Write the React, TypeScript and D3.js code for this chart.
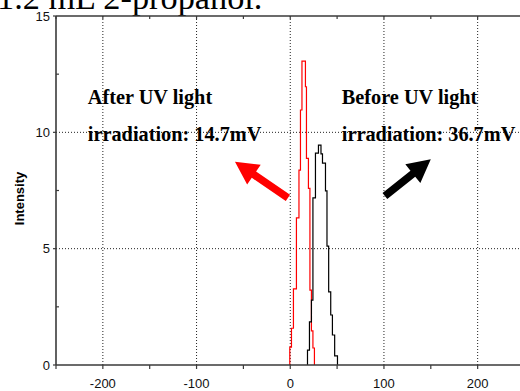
import * as d3 from "d3";

// ── Data ──────────────────────────────────────────────────────
// histogram bin edges (x) and heights (intensity)
const RED_EDGES = [-0.5, 1.3, 3.4, 6.6, 9.3, 10.9, 12.5, 16.2, 17.3, 19.4, 21.0, 22.6, 24.2, 25.8];
const RED_HEIGHTS = [0.77, 1.58, 3.27, 6.32, 8.38, 10.96, 13.06, 11.96, 8.88, 7.59, 3.22, 1.47, 0.73];

const BLACK_EDGES = [18.4, 20.5, 22.6, 24.2, 26.9, 30.1, 32.8, 34.4, 37.6, 39.2, 41.0, 43.2, 45.0, 47.4, 50.4];
const BLACK_HEIGHTS = [0.64, 1.85, 2.79, 7.18, 9.11, 9.45, 9.07, 8.68, 7.48, 5.11, 3.14, 2.15, 1.29, 0.39];

const X_TICKS = [-200, -100, 0, 100, 200];
const X_MINOR = [-250, -150, -50, 50, 150, 250];
const Y_TICKS = [0, 5, 10, 15];
const Y_MINOR = [2.5, 7.5, 12.5];
const Y_GRID = [5, 10];

// annotations in data coordinates
const LABELS = [
  { x: -216, y: 11.2, text: "After UV light" },
  { x: -216, y: 9.63, text: "irradiation: 14.7mV" },
  { x: 55, y: 11.2, text: "Before UV light" },
  { x: 55, y: 9.63, text: "irradiation: 36.7mV" },
];
const ARROWS = [
  { x0: -2.5, y0: 7.18, x1: -59, y1: 8.74, color: "#ff0000" },
  { x0: 101, y0: 7.26, x1: 150, y1: 8.84, color: "#000000" },
];

const W = 520;
const H = 391;
const M = { left: 56, top: 16, right: 524.5, bottom: 365 };

function stepPoints(edges: number[], heights: number[]): [number, number][] {
  const pts: [number, number][] = [[edges[0], 0]];
  heights.forEach((h, i) => {
    pts.push([edges[i], h]);
    pts.push([edges[i + 1], h]);
  });
  pts.push([edges[edges.length - 1], 0]);
  return pts;
}

function arrowPath(ax: number, ay: number, bx: number, by: number) {
  const dx = bx - ax;
  const dy = by - ay;
  const len = Math.hypot(dx, dy);
  const ux = dx / len;
  const uy = dy / len;
  const nx = -uy;
  const ny = ux;
  const sw = 3.8; // half shaft width
  const hw = 12; // half head width
  const hl = 23; // head length
  const bxh = bx - ux * hl;
  const byh = by - uy * hl;
  const p = [
    [ax + nx * sw, ay + ny * sw],
    [bxh + nx * sw, byh + ny * sw],
    [bxh + nx * hw, byh + ny * hw],
    [bx, by],
    [bxh - nx * hw, byh - ny * hw],
    [bxh - nx * sw, byh - ny * sw],
    [ax - nx * sw, ay - ny * sw],
  ];
  return "M" + p.map((q) => q.join(",")).join("L") + "Z";
}

export default function App() {
  const x = d3.scaleLinear().domain([-250, 250]).range([M.left, M.right]);
  const y = d3.scaleLinear().domain([0, 15]).range([M.bottom, M.top]);
  const line = d3
    .line<[number, number]>()
    .x((d) => x(d[0]))
    .y((d) => y(d[1]));

  const axisColor = "#3a3a3a";
  const sans = "'Liberation Sans', Arial, sans-serif";
  const serif = "'Liberation Serif', 'Times New Roman', serif";

  return (
    <div style={{ position: "fixed", left: 0, top: 0 }}>
      <svg width={W} height={H} style={{ display: "block", background: "#fff" }}>
        {/* clipped title above the plot */}
        <text x={-3} y={9} fontFamily={serif} fontSize={34.3} fill="#000">
          1.2 mL 2-propanol.
        </text>

        {/* grid */}
        {X_TICKS.map((t) => (
          <line key={"gx" + t} x1={x(t)} x2={x(t)} y1={M.top} y2={M.bottom}
            stroke="#222" strokeWidth={1} strokeDasharray="1,2" />
        ))}
        {Y_GRID.map((t) => (
          <line key={"gy" + t} x1={M.left} x2={M.right} y1={y(t)} y2={y(t)}
            stroke="#222" strokeWidth={1} strokeDasharray="1,2" />
        ))}

        {/* histograms */}
        <path d={line(stepPoints(RED_EDGES, RED_HEIGHTS)) ?? ""} fill="none" stroke="#ff0000" strokeWidth={1.2} />
        <path d={line(stepPoints(BLACK_EDGES, BLACK_HEIGHTS)) ?? ""} fill="none" stroke="#000" strokeWidth={1.2} />

        {/* frame */}
        <line x1={M.left} x2={M.right} y1={M.bottom} y2={M.bottom} stroke={axisColor} strokeWidth={1.6} />
        <line x1={M.left} x2={M.right} y1={M.top} y2={M.top} stroke={axisColor} strokeWidth={1.6} />
        <line x1={M.left} x2={M.left} y1={M.top} y2={M.bottom} stroke={axisColor} strokeWidth={1.6} />

        {/* x ticks */}
        {X_TICKS.concat(X_MINOR).map((t) => (
          <g key={"xt" + t}>
            <line x1={x(t)} x2={x(t)} y1={M.bottom} y2={M.bottom + 4} stroke={axisColor} strokeWidth={1.2} />
            <line x1={x(t)} x2={x(t)} y1={M.top} y2={M.top + 3} stroke={axisColor} strokeWidth={1.2} />
          </g>
        ))}
        {X_TICKS.map((t) => (
          <text key={"xl" + t} x={x(t)} y={388} textAnchor="middle" fontFamily={sans} fontSize={13} fill="#111">
            {t}
          </text>
        ))}

        {/* y ticks */}
        {Y_TICKS.map((t) => (
          <g key={"yt" + t}>
            <line x1={M.left - 3} x2={M.left} y1={y(t)} y2={y(t)} stroke={axisColor} strokeWidth={1.2} />
            <text x={50} y={y(t)} dy="0.35em" textAnchor="end" fontFamily={sans} fontSize={13} fill="#111">
              {t}
            </text>
          </g>
        ))}
        {Y_MINOR.map((t) => (
          <line key={"ym" + t} x1={M.left} x2={M.left + 3} y1={y(t)} y2={y(t)} stroke={axisColor} strokeWidth={1.2} />
        ))}
        <text transform={`translate(24,${(M.top + M.bottom) / 2 + 8}) rotate(-90)`} textAnchor="middle"
          fontFamily={sans} fontSize={13} fontWeight="bold" fill="#000">
          Intensity
        </text>

        {/* annotations */}
        {LABELS.map((l) => (
          <text key={l.text} x={x(l.x)} y={y(l.y)} fontFamily={serif} fontSize={20.3} fontWeight="bold" fill="#000">
            {l.text}
          </text>
        ))}
        {ARROWS.map((a, i) => (
          <path key={i} d={arrowPath(x(a.x0), y(a.y0), x(a.x1), y(a.y1))} fill={a.color} />
        ))}
      </svg>
    </div>
  );
}
